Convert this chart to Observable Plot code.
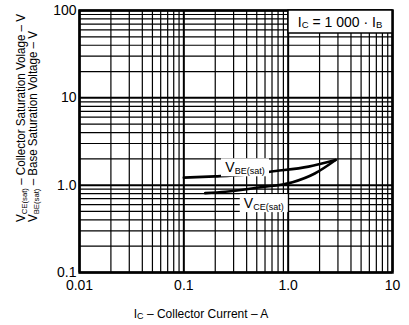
<!DOCTYPE html>
<html>
<head>
<meta charset="utf-8">
<script src="https://cdn.jsdelivr.net/npm/d3@7"></script>
<script src="https://cdn.jsdelivr.net/npm/@observablehq/plot@0.6"></script>
<style>
  html, body { margin: 0; padding: 0; background: white; }
  svg { display: block; }
</style>
</head>
<body>
<div id="chart"></div>
<script>
// ---- data ----
const icBE = [0.1, 0.2, 0.36, 0.76, 1.57, 2.85];
const vBE  = [1.22, 1.26, 1.31, 1.45, 1.63, 1.94];
const icCE = [0.16, 0.25, 0.52, 1.1, 1.8, 2.85];
const vCE  = [0.81, 0.84, 0.94, 1.08, 1.36, 1.94];

const xTicks = [0.01, 0.1, 1, 10];
const xTickLabels = ["0.01", "0.1", "1.0", "10"];
const yTicks = [0.1, 1, 10, 100];
const yTickLabels = ["0.1", "1.0", "10", "100"];

// label anchors (data coordinates)
const labelBE = {x: 0.39, y: 1.58};
const labelCE = {x: 0.59, y: 0.615};

// log grid (1..9 per decade)
const minor = (lo, hi) => {
  const out = [];
  for (let d = lo; d < hi; d *= 10) for (let k = 2; k <= 9; k++) out.push(+(k * d).toPrecision(3));
  return out;
};
const xMinor = minor(0.01, 10);
const yMinor = minor(0.1, 100);

const beData = icBE.map((x, i) => ({x, y: vBE[i]}));
const ceData = icCE.map((x, i) => ({x, y: vCE[i]}));

const xLabelMap = new Map(xTicks.map((t, i) => [t, xTickLabels[i]]));
const yLabelMap = new Map(yTicks.map((t, i) => [t, yTickLabels[i]]));

const font = "Liberation Sans, Arial, Helvetica, sans-serif";

const plot = Plot.plot({
  width: 409,
  height: 325,
  marginLeft: 79,
  marginRight: 17,
  marginTop: 10,
  marginBottom: 53,
  style: {fontFamily: font, fontSize: "14px", background: "white", color: "black"},
  x: {type: "log", domain: [0.01, 10], ticks: xTicks, tickFormat: d => xLabelMap.get(d), tickSize: 0, tickPadding: 8, label: null},
  y: {type: "log", domain: [0.1, 100], ticks: yTicks, tickFormat: d => yLabelMap.get(d), tickSize: 0, tickPadding: 3, label: null},
  marks: [
    Plot.ruleX(xMinor, {stroke: "black", strokeWidth: 1.2}),
    Plot.ruleY(yMinor, {stroke: "black", strokeWidth: 1.2}),
    Plot.ruleX(xTicks, {stroke: "black", strokeWidth: 2}),
    Plot.ruleY(yTicks, {stroke: "black", strokeWidth: 2}),
    Plot.frame({stroke: "black", strokeWidth: 2.5}),
    Plot.line(beData, {x: "x", y: "y", stroke: "black", strokeWidth: 2.6, curve: "monotone-x"}),
    Plot.line(ceData, {x: "x", y: "y", stroke: "black", strokeWidth: 2.6, curve: "monotone-x"})
  ]
});

document.getElementById("chart").appendChild(plot);

const svg = d3.select(plot);
const sx = plot.scale("x"), sy = plot.scale("y");

function addSubText(g, parts, attrs) {
  const t = g.append("text").attr("font-family", font);
  for (const [k, v] of Object.entries(attrs)) t.attr(k, v);
  for (const p of parts) {
    const ts = t.append("tspan").text(p.t);
    if (p.sub) ts.attr("font-size", p.sub).attr("dy", p.dy);
    else if (p.dy) ts.attr("dy", p.dy);
  }
  return t;
}

// curve labels with white backing
function curveLabel(anchor, sub, w) {
  const cx = sx.apply(anchor.x), cy = sy.apply(anchor.y);
  svg.append("rect").attr("x", cx - w / 2).attr("y", cy - 9).attr("width", w).attr("height", 18).attr("fill", "white");
  addSubText(svg, [
    {t: "V"},
    {t: sub, sub: 9, dy: 2}
  ], {x: cx, y: cy + 5, "text-anchor": "middle", "font-size": 14});
}
curveLabel(labelBE, "BE(sat)", 48);
curveLabel(labelCE, "CE(sat)", 48);

// condition box (top-right corner of frame)
const bx1 = sx.apply(10), by0 = sy.apply(100);
svg.append("rect").attr("x", bx1 - 104).attr("y", by0).attr("width", 104).attr("height", 23)
  .attr("fill", "white").attr("stroke", "black").attr("stroke-width", 1.5);
addSubText(svg, [
  {t: "I"}, {t: "C", sub: 9.5, dy: 1}, {t: " = 1 000 · I", dy: -1}, {t: "B", sub: 9.5, dy: 1}
], {x: bx1 - 52, y: by0 + 17, "text-anchor": "middle", "font-size": 14});

// x axis title
addSubText(svg, [
  {t: "I"}, {t: "C", sub: 9, dy: 1}, {t: " – Collector Current – A", dy: -1}
], {x: 201, y: 318, "text-anchor": "middle", "font-size": 12});

// y axis titles (two rotated lines)
addSubText(svg, [
  {t: "V"}, {t: "CE(sat)", sub: 8, dy: 2}, {t: " – Collector Saturation Volage – V", dy: -2}
], {transform: "translate(25,222) rotate(-90)", "text-anchor": "start", "font-size": 12, textLength: 208, lengthAdjust: "spacingAndGlyphs"});
addSubText(svg, [
  {t: "V"}, {t: "BE(sat)", sub: 8, dy: 2}, {t: " – Base Saturation Voltage – V", dy: -2}
], {transform: "translate(37,222) rotate(-90)", "text-anchor": "start", "font-size": 12, textLength: 191, lengthAdjust: "spacingAndGlyphs"});
</script>
</body>
</html>
